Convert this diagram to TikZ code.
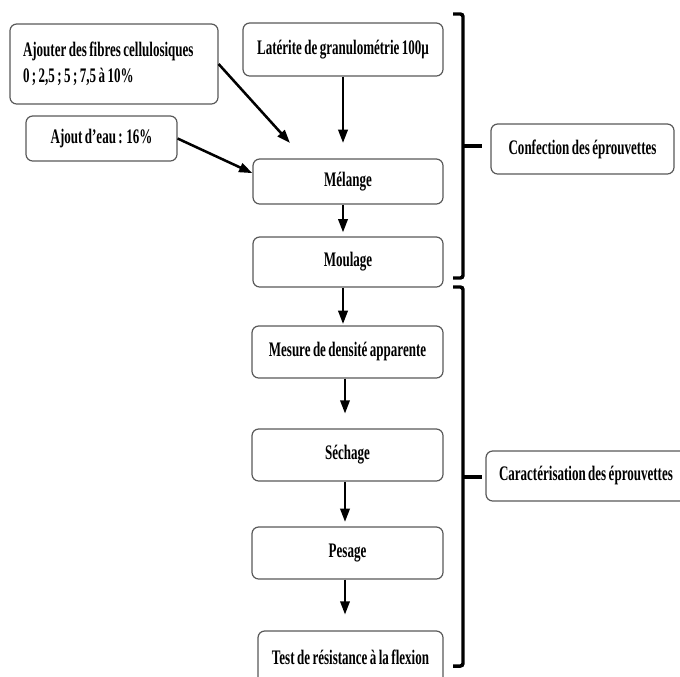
\documentclass[tikz,border=0pt]{standalone}
\usepackage{fontspec}
\setmainfont[FakeStretch=0.63,WordSpace=0.75]{Liberation Serif}
\usetikzlibrary{arrows.meta}
\usetikzlibrary{positioning}
\tikzstyle{etape}=[draw=black!65,line width=0.9pt,rounded corners=5pt,fill=white,inner sep=0pt,font=\fontsize{15.5}{19.5}\selectfont\bfseries]
\tikzstyle{fleche}=[line width=1.9pt,-{Triangle[width=7pt,length=10pt]}]
\tikzstyle{accolade}=[line width=2.6pt,rounded corners=2pt]

\begin{document}
\begin{tikzpicture}[x=0.75pt,y=-0.75pt]
\useasboundingbox (0,0) rectangle (680,676);
% entrees
\node [etape,minimum height=60pt,text width=136.5pt,inner xsep=9.75pt,align=left] (fibres) at (114,64) {\spaceskip=0pt Ajouter des fibres cellulosiques\\0 ; 2,5 ; 5 ; 7,5 à 10\%};
\node [etape,minimum width=150pt,minimum height=39.75pt] (laterite) at (343,49.5) {Latérite de granulométrie 100µ};
\node [etape,minimum width=113.25pt,minimum height=33.75pt] (eau) at (101.5,138.5) {Ajout d’eau : 16\%};
% confection
\node [etape,minimum width=142.5pt,minimum height=33.75pt] (melange) at (348,181.5) {Mélange};
\node [etape,minimum width=142.5pt,minimum height=37.5pt] (moulage) at (348,262) {Moulage};
% caracterisation
\node [etape,minimum width=143.25pt,minimum height=39pt] (densite) at (347.5,352) {Mesure de densité apparente};
\node [etape,minimum width=143.25pt,minimum height=39pt] (sechage) at (347.5,455) {Séchage};
\node [etape,minimum width=143.25pt,minimum height=39pt] (pesage) at (347.5,553) {Pesage};
\node [etape,minimum width=138.75pt,minimum height=39pt] (flexion) at (350.5,657) {Test de résistance à la flexion};
% phases
\node [etape,minimum width=137.25pt,minimum height=37.5pt] (confection) at (582.5,149) {Confection des éprouvettes};
\node [etape,minimum height=37.5pt,text width=135pt,inner xsep=9.75pt,align=left] (carac) at (589,476) {\spaceskip=0pt Caractérisation des éprouvettes};

\coordinate (arrivee) at (343,143);
\coordinate (fibrearr) at (290,143);
\draw[fleche] (laterite.south -| arrivee) -- (arrivee);
\draw[fleche] (fibres.east) -- (fibrearr);
\draw[fleche] (eau.east) -- (melange.175);
\draw[fleche,shorten >=3pt] (melange.south -| arrivee) -- (moulage.north -| arrivee);
\draw[fleche,shorten >=1pt] (moulage.south -| arrivee) -- (densite.north -| arrivee);
\draw[fleche,shorten >=6pt] (densite.south) ++(-2.5,0) -- ++(0,43);
\draw[fleche,shorten >=2pt] (sechage.south) ++(-2.5,0) -- ++(0,43);
\draw[fleche,shorten >=6pt] (pesage.south) ++(-2.5,0) -- ++(0,43);

% accolades
\draw[accolade] (453,14) -- (463,14) -- (463,278) -- (453,278);
\draw[accolade] (463,146) -- (482,146);
\draw[accolade] (453,287) -- (463,287) -- (463,666) -- (453,666);
\draw[accolade] (463,477) -- (482,477);
\end{tikzpicture}
\end{document}
